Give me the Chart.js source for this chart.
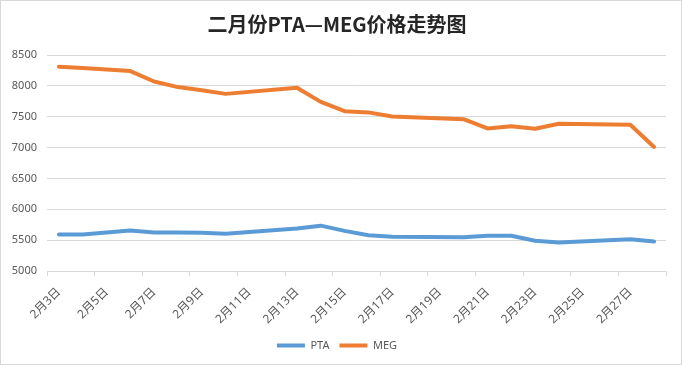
<!DOCTYPE html>
<html>
<head>
<meta charset="utf-8">
<script src="https://cdn.jsdelivr.net/npm/chart.js@4.4.1/dist/chart.umd.min.js"></script>
<style>
  html, body { margin: 0; padding: 0; background: #ffffff; }
  #wrap { width: 682px; height: 365px; position: relative; }
</style>
</head>
<body>
<div id="wrap"><canvas id="c" width="682" height="365"></canvas></div>
<script>
// ---- data ----
const titleText = '二月份PTA—MEG价格走势图';
const categories = ['2月3日','2月4日','2月5日','2月6日','2月7日','2月8日','2月9日','2月10日','2月11日','2月12日',
  '2月13日','2月14日','2月15日','2月16日','2月17日','2月18日','2月19日','2月20日','2月21日','2月22日',
  '2月23日','2月24日','2月25日','2月26日','2月27日','2月28日'];
const ptaValues = [5590, 5590, null, 5655, 5625, 5625, 5620, 5605, null, null,
  5690, 5735, 5650, 5580, 5555, null, null, 5545, 5570, 5570,
  5490, 5460, null, null, 5515, 5478];
const megValues = [8310, 8290, null, 8240, 8070, 7980, 7930, 7870, null, null,
  7970, 7740, 7590, 7570, 7505, null, null, 7460, 7310, 7345,
  7305, 7385, null, null, 7370, 7010];
const yTicks = { min: 5000, max: 8500, step: 500 };

const textColor = '#595959';
const gridColor = '#d9d9d9';
const fontFamily = "'Noto Sans', 'Noto Sans CJK SC', sans-serif";

const borderPlugin = {
  id: 'outerBorder',
  afterDraw(chart) {
    const ctx = chart.ctx;
    ctx.save();
    ctx.strokeStyle = '#d9d9d9';
    ctx.lineWidth = 1;
    ctx.strokeRect(0.5, 0.5, chart.width - 1, chart.height - 1);
    ctx.restore();
  }
};

new Chart(document.getElementById('c'), {
  type: 'line',
  data: {
    labels: categories,
    datasets: [
      { label: 'PTA', data: ptaValues, borderColor: '#5B9BD5', backgroundColor: '#5B9BD5',
        borderWidth: 4, pointRadius: 0, tension: 0, spanGaps: true,
        borderJoinStyle: 'round', borderCapStyle: 'round' },
      { label: 'MEG', data: megValues, borderColor: '#ED7D31', backgroundColor: '#ED7D31',
        borderWidth: 4, pointRadius: 0, tension: 0, spanGaps: true,
        borderJoinStyle: 'round', borderCapStyle: 'round' }
    ]
  },
  options: {
    responsive: false,
    animation: false,
    layout: { padding: { left: 8, right: 16, top: 0, bottom: 4 } },
    plugins: {
      title: {
        display: true, text: titleText, color: '#262626',
        font: { family: "'Noto Sans CJK SC', sans-serif", size: 20, weight: 'bold' },
        padding: { top: 12, bottom: 19 }
      },
      legend: {
        position: 'bottom',
        labels: {
          color: textColor, font: { family: fontFamily, size: 11 },
          usePointStyle: true, pointStyle: 'line', pointStyleWidth: 28, boxHeight: 11, padding: 10
        }
      },
      tooltip: { enabled: false }
    },
    scales: {
      x: {
        offset: true,
        border: { display: true, color: gridColor, width: 1 },
        grid: {
          offset: true, drawOnChartArea: false, drawTicks: true, tickLength: 5,
          color: (ctx) => (ctx.index === undefined || ctx.index % 2 === 0) ? gridColor : 'rgba(0,0,0,0)'
        },
        ticks: {
          autoSkip: false, minRotation: 45, maxRotation: 45, padding: 9,
          color: textColor, font: { family: fontFamily, size: 12 },
          callback: function (value, index) { return index % 2 === 0 ? this.getLabelForValue(value) : ''; }
        },
        afterFit: (scale) => { scale.height = 59; }
      },
      y: {
        min: yTicks.min, max: yTicks.max,
        border: { display: false },
        grid: { color: gridColor, drawTicks: false },
        ticks: { stepSize: yTicks.step, padding: 10, color: textColor, font: { family: fontFamily, size: 11 },
          callback: (v) => String(v) },
        afterFit: (scale) => { scale.width = 39; }
      }
    }
  },
  plugins: [borderPlugin]
});
</script>
</body>
</html>
